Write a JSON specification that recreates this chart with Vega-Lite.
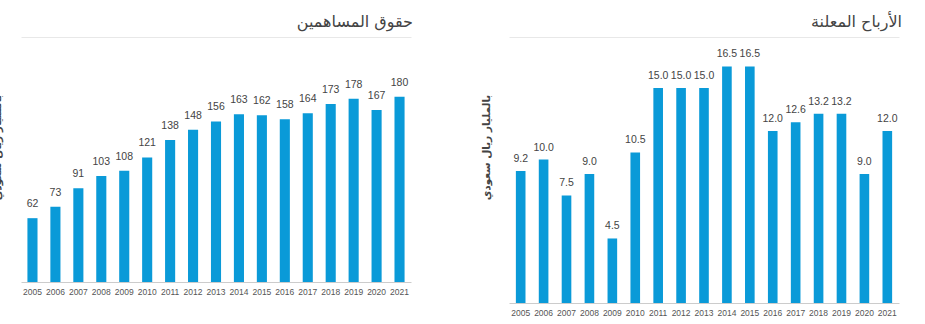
{
  "$schema": "https://vega.github.io/schema/vega-lite/v6.json",
  "padding": {"left": -8, "top": 14, "right": 0, "bottom": 0},
  "background": "white",
  "spacing": 0,
  "config": {
    "view": {"stroke": null},
    "font": "Liberation Sans",
    "title": {"font": "DejaVu Sans", "fontSize": 16, "fontWeight": "normal", "color": "#444444", "anchor": "end", "baseline": "middle", "offset": 7},
    "axis": {"labelFont": "Liberation Sans", "labelFontSize": 8.5, "labelColor": "#555555", "titleFont": "DejaVu Sans", "titleFontSize": 10.5, "titleFontWeight": "bold", "titleColor": "#444444"}
  },
  "hconcat": [
    {
      "width": 460,
      "height": 245,
      "title": {"text": "حقوق المساهمين", "dx": -46},
      "data": {"values": [
        {"year": "2005", "value": 62}, {"year": "2006", "value": 73}, {"year": "2007", "value": 91},
        {"year": "2008", "value": 103}, {"year": "2009", "value": 108}, {"year": "2010", "value": 121},
        {"year": "2011", "value": 138}, {"year": "2012", "value": 148}, {"year": "2013", "value": 156},
        {"year": "2014", "value": 163}, {"year": "2015", "value": 162}, {"year": "2016", "value": 158},
        {"year": "2017", "value": 164}, {"year": "2018", "value": 173}, {"year": "2019", "value": 178},
        {"year": "2020", "value": 167}, {"year": "2021", "value": 180}
      ]},
      "encoding": {
        "x": {"field": "year", "type": "ordinal", "sort": null,
          "scale": {"range": [22, 412], "paddingInner": 0.56, "paddingOuter": 0.28},
          "axis": {"title": null, "labelAngle": 0, "ticks": false, "domainColor": "#cccccc", "labelPadding": 5}},
        "y": {"field": "value", "type": "quantitative",
          "scale": {"domain": [0, 238], "nice": false},
          "axis": {"title": "بالمليار ريال سعودي", "values": [238], "labels": false, "ticks": false, "domain": false, "grid": true, "gridColor": "#e8e8e8", "titleX": 3, "titleY": 110}}
      },
      "layer": [
        {"mark": {"type": "bar", "color": "#0a9ad8"}},
        {"mark": {"type": "text", "dy": -11, "baseline": "alphabetic", "fontSize": 10.5, "color": "#444444", "font": "Liberation Sans"},
         "encoding": {"text": {"field": "value", "type": "quantitative", "format": "d"}}}
      ]
    },
    {
      "width": 460,
      "height": 266,
      "title": {"text": "الأرباح المعلنة", "dx": -17},
      "data": {"values": [
        {"year": "2005", "value": 9.2}, {"year": "2006", "value": 10.0}, {"year": "2007", "value": 7.5},
        {"year": "2008", "value": 9.0}, {"year": "2009", "value": 4.5}, {"year": "2010", "value": 10.5},
        {"year": "2011", "value": 15.0}, {"year": "2012", "value": 15.0}, {"year": "2013", "value": 15.0},
        {"year": "2014", "value": 16.5}, {"year": "2015", "value": 16.5}, {"year": "2016", "value": 12.0},
        {"year": "2017", "value": 12.6}, {"year": "2018", "value": 13.2}, {"year": "2019", "value": 13.2},
        {"year": "2020", "value": 9.0}, {"year": "2021", "value": 12.0}
      ]},
      "encoding": {
        "x": {"field": "year", "type": "ordinal", "sort": null,
          "scale": {"range": [50, 440], "paddingInner": 0.58, "paddingOuter": 0.3},
          "axis": {"title": null, "labelAngle": 0, "ticks": false, "domainColor": "#cccccc", "labelPadding": 5}},
        "y": {"field": "value", "type": "quantitative",
          "scale": {"domain": [0, 18.55], "nice": false},
          "axis": {"title": "بالمليار ريال سعودي", "values": [18.55], "labels": false, "ticks": false, "domain": false, "grid": true, "gridColor": "#e8e8e8", "titleX": 32, "titleY": 110}}
      },
      "layer": [
        {"mark": {"type": "bar", "color": "#0a9ad8"}},
        {"mark": {"type": "text", "dy": -9, "baseline": "alphabetic", "fontSize": 10.5, "color": "#444444", "font": "Liberation Sans"},
         "encoding": {"text": {"field": "value", "type": "quantitative", "format": ".1f"}}}
      ]
    }
  ]
}
